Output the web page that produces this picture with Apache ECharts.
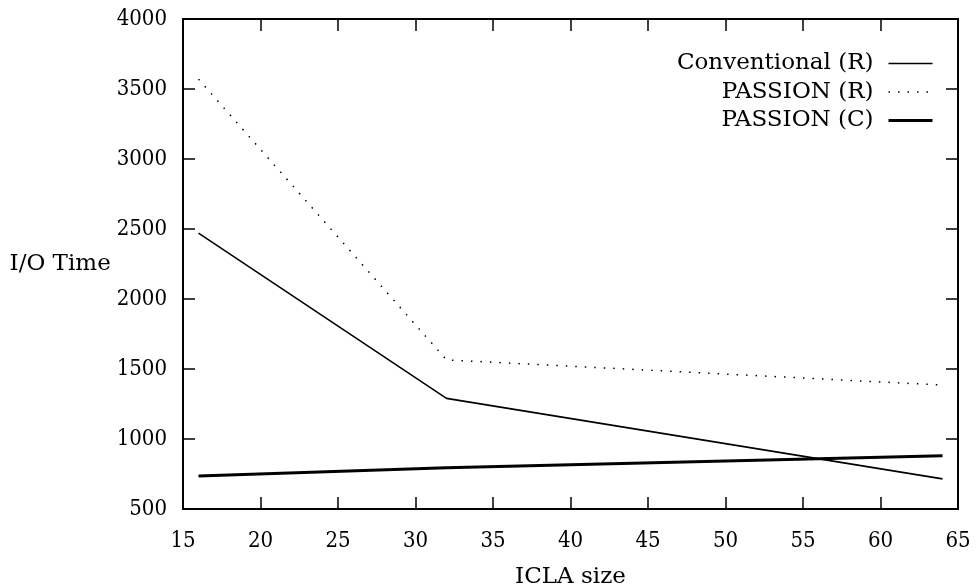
<!DOCTYPE html>
<html>
<head>
<meta charset="utf-8">
<script src="https://cdn.jsdelivr.net/npm/echarts@6/dist/echarts.min.js"></script>
<style>
html, body { margin: 0; background: #fff; }
#chart { width: 976px; height: 588px; }
</style>
</head>
<body>
<div id="chart"></div>
<script>
// values
var iclaSize = [16, 32, 64];
var conventionalR = [2470, 1290, 715];
var passionR = [3570, 1565, 1385];
var passionC = [735, 795, 880];

var digitFont = "'DejaVu Serif Condensed', 'DejaVu Serif', serif";
var textFont = "'DejaVu Serif', serif";

function pairs(ys) {
    return iclaSize.map(function (x, i) { return [x, ys[i]]; });
}

var tickStyle = { show: true, inside: true, length: 12, lineStyle: { color: '#000', width: 1.5 } };
var lineAx = { show: true, onZero: false, lineStyle: { color: '#000', width: 2 } };

var myChart = echarts.init(document.getElementById('chart'));
var option = {
    backgroundColor: '#fff',
    animation: false,
    grid: { left: 183, right: 18, top: 19, bottom: 79, outerBoundsMode: 'none', containLabel: false },
    legend: {
        orient: 'vertical',
        align: 'right',
        right: 37,
        top: 47,
        itemWidth: 44,
        itemHeight: 10,
        itemGap: 5.5,
        itemStyle: { opacity: 0 },
        textStyle: { fontFamily: textFont, fontSize: 23, color: '#000', lineHeight: 21, padding: [0, 10, 0, 0] },
        data: [
            { name: 'Conventional (R)', lineStyle: { width: 1.5 } },
            { name: 'PASSION (R)', lineStyle: { width: 1.5 } },
            { name: 'PASSION (C)', lineStyle: { width: 3 } }
        ]
    },
    xAxis: [{
        type: 'value',
        min: 15, max: 65, interval: 5,
        name: 'ICLA size',
        nameLocation: 'middle',
        nameGap: 57,
        nameTextStyle: { fontFamily: textFont, fontSize: 23, color: '#000' },
        axisLine: lineAx,
        axisTick: tickStyle,
        axisLabel: { fontFamily: digitFont, fontSize: 22, color: '#000', margin: 21 },
        splitLine: { show: false }
    }, {
        type: 'value',
        position: 'top',
        min: 15, max: 65, interval: 5,
        axisLine: lineAx,
        axisTick: tickStyle,
        axisLabel: { show: false },
        splitLine: { show: false }
    }],
    yAxis: [{
        type: 'value',
        min: 500, max: 4000, interval: 500,
        name: 'I/O Time',
        nameLocation: 'middle',
        nameRotate: 0,
        nameGap: 111,
        nameTextStyle: { fontFamily: textFont, fontSize: 23, color: '#000', align: 'center', verticalAlign: 'middle' },
        axisLine: lineAx,
        axisTick: tickStyle,
        axisLabel: { fontFamily: digitFont, fontSize: 22, color: '#000', margin: 16, formatter: function (v) { return String(v); } },
        splitLine: { show: false }
    }, {
        type: 'value',
        position: 'right',
        min: 500, max: 4000, interval: 500,
        axisLine: lineAx,
        axisTick: tickStyle,
        axisLabel: { show: false },
        splitLine: { show: false }
    }],
    series: [{
        name: 'Conventional (R)',
        type: 'line',
        symbol: 'none',
        data: pairs(conventionalR),
        lineStyle: { color: '#000', width: 1.6 },
        itemStyle: { color: '#000' }
    }, {
        name: 'PASSION (R)',
        type: 'line',
        symbol: 'none',
        data: pairs(passionR),
        lineStyle: { color: '#000', width: 1.5, type: [1.5, 8] },
        itemStyle: { color: '#000' }
    }, {
        name: 'PASSION (C)',
        type: 'line',
        symbol: 'none',
        data: pairs(passionC),
        lineStyle: { color: '#000', width: 3 },
        itemStyle: { color: '#000' }
    }]
};
myChart.setOption(option);
window.onresize = function () {
    myChart.resize();
};
</script>
</body>
</html>
